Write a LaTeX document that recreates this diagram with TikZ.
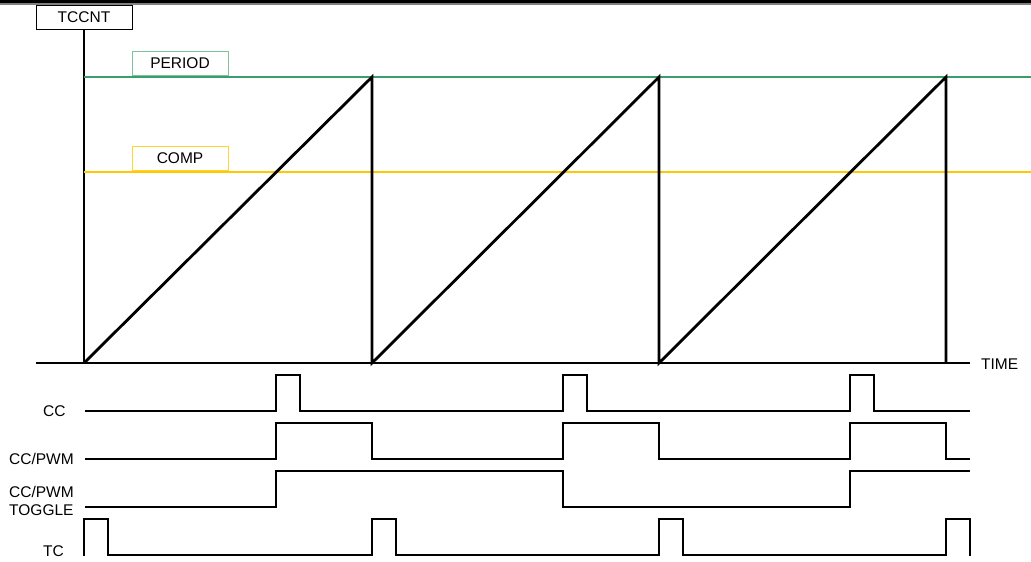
\documentclass[tikz,border=0pt]{standalone}
\usepackage{fontspec}
\setmainfont{Liberation Sans}
\definecolor{pgreen}{RGB}{58,158,108}
\definecolor{pgreenl}{RGB}{125,195,155}
\definecolor{cyell}{RGB}{255,200,0}
\definecolor{cyelll}{RGB}{255,212,50}
\begin{document}
\begin{tikzpicture}[x=1pt,y=-1pt,
  font=\fontsize{15.5}{18}\selectfont,
  lbl/.style={inner sep=0pt, anchor=west},
  tagbox/.style={draw, line width=1pt, minimum width=96pt, minimum height=24pt, inner sep=0pt},
  axis/.style={line width=2pt},
  ramp/.style={line width=2.8pt, line join=miter},
  sig/.style={line width=2.2pt, line join=miter}]
\useasboundingbox (0,0) rectangle (1031,562);
% top bar
\fill[black] (0,0) rectangle (1031,3);
\fill[gray] (0,3) rectangle (1031,4.5);
% axes
\node[tagbox] (tccnt) at (84,17) {TCCNT};
\coordinate (orig) at (84,363);
\coordinate (tl) at (36,363);
\coordinate (tr) at (970,363);
\draw[axis] (tccnt.south) -- (orig);
\draw[line width=2.4pt] (tl) -- (tr);
\node[lbl] (time) at (981,364) {TIME};
% period and comp
\coordinate (p0) at (84,77);
\coordinate (p1) at (1031,77);
\coordinate (c0) at (84,172);
\coordinate (c1) at (1031,172);
\node[tagbox, draw=pgreenl, anchor=south] (period) at (180,76) {PERIOD};
\node[tagbox, draw=cyelll, anchor=south] (comp) at (180,171) {COMP};
\draw[pgreen, line width=2pt] (p0) -- (p1);
\draw[cyell, line width=2pt] (c0) -- (c1);
% ramps
\draw[ramp] (orig) -- (372,77) -- (372,363) -- (659,77) -- (659,363) -- (946,77) -- (946,363);
% labels
\node[lbl] (lcc) at (43,411) {CC};
\node[lbl] (lpwm) at (9,459) {CC/PWM};
\node[lbl, align=left] (ltog) at (9,501) {CC/PWM\\TOGGLE};
\node[lbl] (ltc) at (43,551) {TC};
% waveforms
\draw[sig] (85,411) -- (276,411) -- (276,375) -- (300,375) -- (300,411) -- (563,411) -- (563,375) -- (587,375) -- (587,411) -- (850,411) -- (850,375) -- (874,375) -- (874,411) -- (970,411);
\draw[sig] (85,459) -- (276,459) -- (276,423) -- (372,423) -- (372,459) -- (563,459) -- (563,423) -- (659,423) -- (659,459) -- (850,459) -- (850,423) -- (946,423) -- (946,459) -- (970,459);
\draw[sig] (85,507) -- (276,507) -- (276,471) -- (563,471) -- (563,507) -- (850,507) -- (850,471) -- (970,471);
\draw[sig] (84,556) -- (84,519) -- (108,519) -- (108,555) -- (372,555) -- (372,519) -- (396,519) -- (396,555) -- (659,555) -- (659,519) -- (683,519) -- (683,555) -- (946,555) -- (946,519) -- (970,519) -- (970,556);
\end{tikzpicture}
\end{document}
